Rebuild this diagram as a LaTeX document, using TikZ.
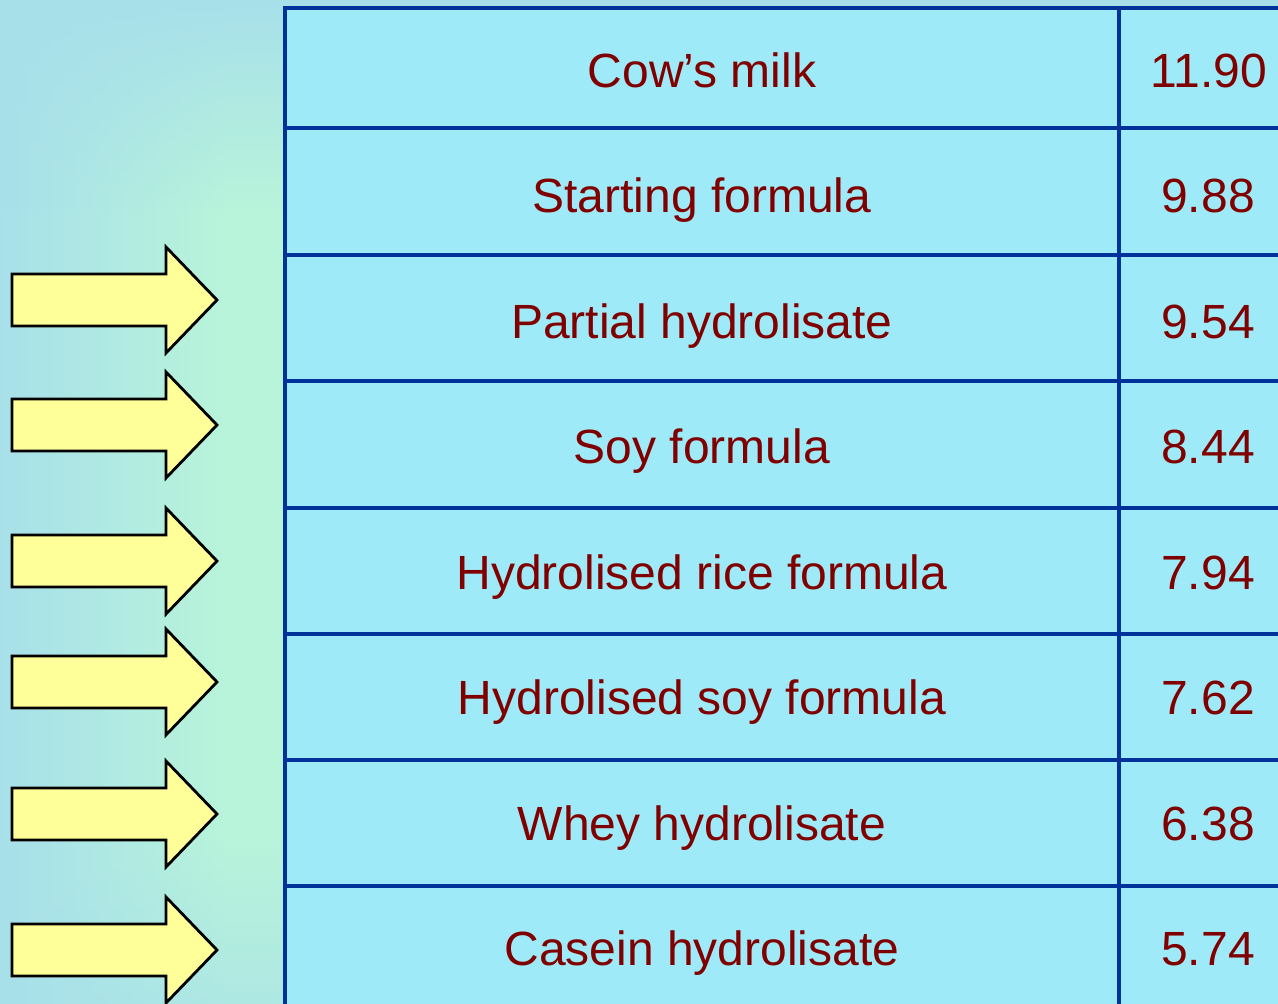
\documentclass[tikz,border=0pt]{standalone}
\usepackage{fontspec}
\setmainfont{Liberation Sans}
\usetikzlibrary{fadings}
\definecolor{bgblue}{HTML}{A8E0EA}
\definecolor{bggreen}{HTML}{B8F4DA}
\definecolor{cellcyan}{HTML}{9EEAF8}
\definecolor{gridblue}{HTML}{003399}
\definecolor{textred}{HTML}{800000}
\definecolor{arrowyellow}{HTML}{FFFF99}
\tikzset{
  rowtext/.style={text=textred, font=\fontsize{48}{57}\selectfont, anchor=base, inner sep=0pt},
  gridline/.style={gridblue, line width=3.5pt},
  pointer/.style={fill=arrowyellow, draw=black, line width=2.8pt, line join=miter},
}
\newcommand{\pointerat}[1]{%
  \draw[pointer] (12,#1-26) -- (166,#1-26) -- (166,#1-53) -- (217,#1)
    -- (166,#1+53) -- (166,#1+26) -- (12,#1+26) -- cycle;}
\begin{document}
\begin{tikzpicture}[x=1pt, y=-1pt]
    \useasboundingbox (0,0) rectangle (1278,1004);
    \clip (0,0) rectangle (1278,1004);
    % background
    \fill[bgblue] (0,0) rectangle (1278,1004);
    \shade[left color=bgblue, right color=bggreen] (0,0) rectangle (230,1004);
    \fill[bggreen] (230,0) rectangle (285,1004);
    \fill[bgblue, path fading=south] (0,0) rectangle (285,210);
    \fill[bgblue, path fading=north, opacity=0.6] (0,840) rectangle (285,1004);
    % table
    \fill[cellcyan] (285,8) rectangle (1300,1012);
    \draw[gridline] (285,1012) -- (285,8) -- (1300,8);
    \draw[gridline] (1119,8) -- (1119,1012);
    \draw[gridline] (285,128) -- (1300,128);
    \draw[gridline] (285,255) -- (1300,255);
    \draw[gridline] (285,381) -- (1300,381);
    \draw[gridline] (285,508) -- (1300,508);
    \draw[gridline] (285,634) -- (1300,634);
    \draw[gridline] (285,760) -- (1300,760);
    \draw[gridline] (285,886) -- (1300,886);
    % labels
    \node[rowtext] (cow) at (702,87) {Cow’s milk};
    \node[rowtext] (start) at (702,212) {Starting formula};
    \node[rowtext] (partial) at (702,338) {Partial hydrolisate};
    \node[rowtext] (soy) at (702,463) {Soy formula};
    \node[rowtext] (rice) at (702,589) {Hydrolised rice formula};
    \node[rowtext] (hsoy) at (702,714) {Hydrolised soy formula};
    \node[rowtext] (whey) at (702,840) {Whey hydrolisate};
    \node[rowtext] (casein) at (702,965) {Casein hydrolisate};
    \node[rowtext] (cowval) at (1209,87) {11.90};
    \node[rowtext] (startval) at (1208,212) {9.88};
    \node[rowtext] (partialval) at (1208,338) {9.54};
    \node[rowtext] (soyval) at (1208,463) {8.44};
    \node[rowtext] (riceval) at (1208,589) {7.94};
    \node[rowtext] (hsoyval) at (1208,714) {7.62};
    \node[rowtext] (wheyval) at (1208,840) {6.38};
    \node[rowtext] (caseinval) at (1208,965) {5.74};
    % arrows
    \pointerat{300}
    \pointerat{425}
    \pointerat{561}
    \pointerat{682}
    \pointerat{814}
    \pointerat{950}
\end{tikzpicture}
\end{document}
